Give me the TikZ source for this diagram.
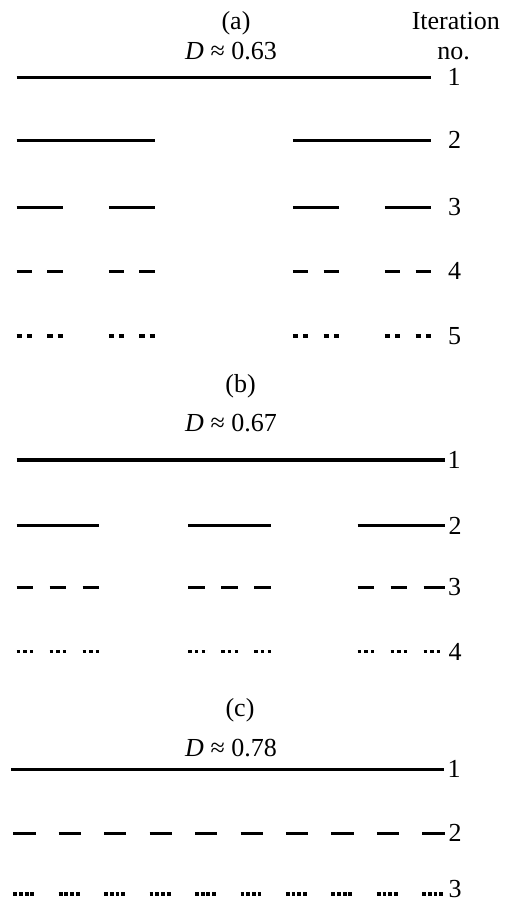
\documentclass[tikz,border=0pt]{standalone}
\usepackage{fontspec}
\setmainfont{Liberation Serif}
\begin{document}
\begin{tikzpicture}[x=1pt,y=-1pt,
  seg/.style={line width=3.2pt, line cap=butt},
  txt/.style={font=\fontsize{26}{30}\selectfont, inner sep=0pt, anchor=base}]
\useasboundingbox (0,0) rectangle (505,902);

% ---------- (a) Cantor set ----------
\def\ax{16.7}
\def\aL{414.3}
\node[txt] (alab) at (236,29.5) {(a)};
\node[txt] (aD) at (231,59) {\textit{D} ≈ 0.63};
\node[txt] (iter) at (455.8,29.3) {Iteration};
\node[txt] (itno) at (453.5,59) {no.};

\draw[seg] (\ax,77.7) -- ++(\aL,0);
\foreach \s in {0,2} \draw[seg] ({\ax+\s*(\aL/3)},140.7) -- ++({\aL/3},0);
\foreach \s in {0,2,6,8} \draw[seg] ({\ax+\s*(\aL/9)},207.3) -- ++({\aL/9},0);
\foreach \s in {0,2,6,8,18,20,24,26} \draw[seg] ({\ax+\s*(\aL/27)},271.7) -- ++({\aL/27},0);
\foreach \s in {0,2,6,8,18,20,24,26,54,56,60,62,72,74,78,80} \draw[seg] ({\ax+\s*(\aL/81)},336) -- ++({\aL/81},0);

\node[txt] (a1) at (454,85.7) {1};
\node[txt] (a2) at (454.5,148.9) {2};
\node[txt] (a3) at (454.5,215) {3};
\node[txt] (a4) at (454.5,279.5) {4};
\node[txt] (a5) at (454.5,344.5) {5};

% ---------- (b) ----------
\node[txt] (blab) at (240.5,392.3) {(b)};
\node[txt] (bD) at (231,431.7) {\textit{D} ≈ 0.67};

\draw[seg] (16.7,460) -- (445,460);
\foreach \g in {16.7,188.3} \draw[seg] (\g,525.7) -- ++(82.5,0);
\draw[seg] (357.7,525.7) -- (445,525.7);
\foreach \g in {16.7,188.3} \foreach \k in {0,2,4} \draw[seg] ({\g+\k*16.5},587.3) -- ++(16.5,0);
\foreach \k in {0,2} \draw[seg] ({357.7+\k*16.5},587.3) -- ++(16.5,0);
\draw[seg] ({357.7+4*16.5},587.3) -- (445,587.3);
\foreach \g in {16.7,188.3,357.7} \foreach \k in {0,2,4} \foreach \m in {0,2,4}
  \draw[seg] ({\g+\k*16.5+\m*3.3},651.7) -- ++(3.3,0);

\node[txt] (b1) at (454,468.3) {1};
\node[txt] (b2) at (455,534) {2};
\node[txt] (b3) at (454.5,595.5) {3};
\node[txt] (b4) at (455,660) {4};

% ---------- (c) ----------
\node[txt] (clab) at (240,716.7) {(c)};
\node[txt] (cD) at (231,756.7) {\textit{D} ≈ 0.78};

\draw[seg] (11,769.3) -- (444.3,769.3);
\foreach \k in {0,...,9} \draw[seg] ({13.3+\k*45.44},833.3) -- ++(22.3,0);
\foreach \k in {0,...,9} \foreach \m in {0,...,3}
  \draw[seg] ({13.3+\k*45.44+\m*5.7},894) -- ++(3.8,0);

\node[txt] (c1) at (454,777) {1};
\node[txt] (c2) at (455,841.5) {2};
\node[txt] (c3) at (455,897.3) {3};
\end{tikzpicture}
\end{document}
